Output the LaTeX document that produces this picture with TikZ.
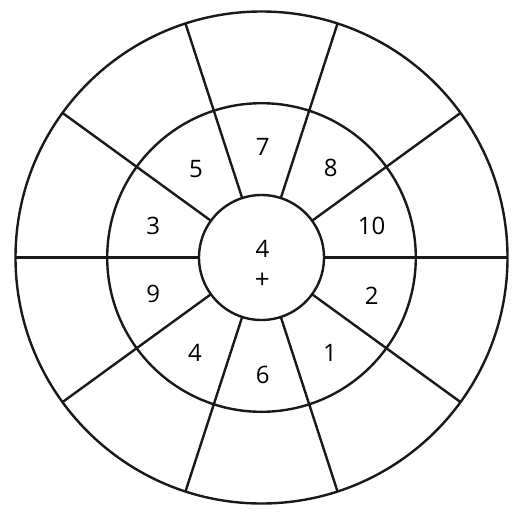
\documentclass[tikz,border=0pt]{standalone}
\usepackage{fontspec}
\setmainfont{Open Sans}
\usetikzlibrary{calc}
\begin{document}
\begin{tikzpicture}[x=1pt,y=-1pt,
  ring/.style={draw=black!90,line width=2.4pt},
  spoke/.style={draw=black!90,line width=2.4pt},
  num/.style={inner sep=0pt,font=\fontsize{24}{28}\selectfont}]
\useasboundingbox (0,0) rectangle (522,517);
\coordinate (c) at (261.5,257.5);
\foreach \a in {0,36,...,324}{
  \draw[spoke] ($(c)+(\a:62.5)$) -- ($(c)+(\a:246)$);
}
\draw[ring,fill=white] (c) circle[radius=62.5];
\draw[ring] (c) circle[radius=154.3];
\draw[ring] (c) circle[radius=246];
\node[num] (n7) at (262.7,147.3) {7};
\node[num] (n8) at (330.7,168.3) {8};
\node[num] (n5) at (196,169.3) {5};
\node[num] (n10) at (371.7,226) {10};
\node[num] (n3) at (153.3,226) {3};
\node[num] (n9) at (153.3,294.3) {9};
\node[num] (n2) at (371.7,296) {2};
\node[num] (n4b) at (195,353.3) {4};
\node[num] (n1) at (330,353.3) {1};
\node[num] (n6) at (262.7,375) {6};
\node[num] (n4) at (262.5,249.3) {4};
\node[num,font=\fontsize{26}{28}\selectfont] (plus) at (262.3,280.7) {+};
\end{tikzpicture}
\end{document}
